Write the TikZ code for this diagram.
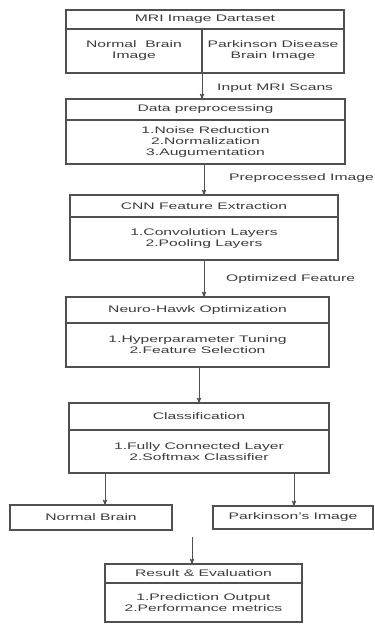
\documentclass[tikz,border=0pt]{standalone}
\usepackage{fontspec}
\setmainfont[FakeStretch=1.65]{Liberation Sans}
\usepackage{tikz}
\usetikzlibrary{calc,arrows,positioning}
\definecolor{linegray}{HTML}{505050}
\definecolor{textgray}{HTML}{3C3C3C}
\tikzset{
	>=stealth',
	head/.style={
		rectangle,
		draw=linegray, line width=1.1pt,
		text=textgray,
		font=\fontsize{9.5}{11}\selectfont,
		inner sep=0pt, outer sep=0pt,
		align=center},
	body/.style={head},
	line/.style={draw=linegray, line width=0.9pt, ->},
	tag/.style={anchor=west, text=textgray, inner sep=0pt,
		font=\fontsize{9.5}{11}\selectfont},
}

\begin{document}
\begin{tikzpicture}[x=1pt,y=-1pt]
			\useasboundingbox (0,0) rectangle (375,625);
			% dataset
			\node[head, minimum width=278, minimum height=19] (mriT) at (205,19.5) {MRI Image Dartaset};
			\node[body, minimum width=136, minimum height=44, anchor=north west] (normalCell) at (mriT.south west) {Normal\ \ Brain\\Image};
			\node[body, minimum width=142, minimum height=44, anchor=north east] (pdCell) at (mriT.south east) {Parkinson Disease\\Brain Image};
			% preprocessing
			\node[head, minimum width=279, minimum height=21] (preT) at (205.5,109.5) {Data preprocessing};
			\node[body, minimum width=279, minimum height=44, below=0pt of preT] (preB) {1.Noise Reduction\\2.Normalization\\3.Augumentation};
			% features
			\node[head, minimum width=268, minimum height=22] (cnnT) at (204,206) {CNN Feature Extraction};
			\node[body, minimum width=268, minimum height=43, below=0pt of cnnT] (cnnB) {1.Convolution Layers\\2.Pooling Layers};
			% optimization
			\node[head, minimum width=263, minimum height=26] (hawkT) at (197.5,310) {Neuro-Hawk Optimization};
			\node[body, minimum width=263, minimum height=44, below=0pt of hawkT] (hawkB) {1.Hyperparameter Tuning\\2.Feature Selection};
			% classification
			\node[head, minimum width=260, minimum height=27] (clsT) at (199,416.5) {Classification};
			\node[body, minimum width=260, minimum height=43, below=0pt of clsT] (clsB) {1.Fully Connected Layer\\2.Softmax Classifier};
			\node[head, minimum width=162, minimum height=25] (normal) at (91,517.5) {Normal Brain};
			\node[head, minimum width=160, minimum height=23] (pbrain) at (293,517.5) {Parkinson's Image};
			% result
			\node[head, minimum width=197, minimum height=19] (resT) at (203.5,573.5) {Result \& Evaluation};
			\node[body, minimum width=197, minimum height=39, below=0pt of resT] (resB) {1.Prediction Output\\2.Performance metrics};

			\coordinate (leftOut) at ([xshift=36pt]clsB.south west);
			\coordinate (rightOut) at ([xshift=-35pt]clsB.south east);
			\coordinate (resIn) at (192,537);

			\draw[line] (normalCell.south east) -- (normalCell.south east |- preT.north);
			\draw[line] (cnnT.north |- preB.south) -- (cnnT.north);
			\draw[line] (cnnB.south) -- (cnnB.south |- hawkT.north);
			\draw[line] (clsT.north |- hawkB.south) -- (clsT.north);
			\draw[line] (leftOut) -- (leftOut |- normal.north);
			\draw[line] (rightOut) -- (rightOut |- pbrain.north);
			\draw[line] (resIn) -- (resIn |- resT.north);

			\node[tag] (scanTag) at (217,88) {Input MRI Scans};
			\node[tag] (preTag) at (229,178) {Preprocessed Image};
			\node[tag] (featTag) at (226,279) {Optimized Feature};
			\end{tikzpicture}
\end{document}
